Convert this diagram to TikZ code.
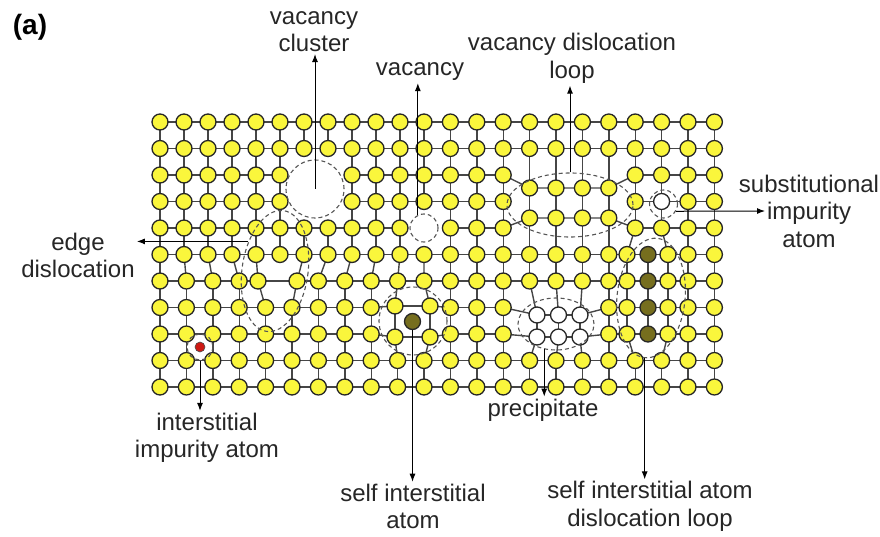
\documentclass[tikz,border=0pt]{standalone}
\usepackage{fontspec}
\setmainfont{Liberation Sans}
\usetikzlibrary{arrows.meta,shapes.geometric}

\definecolor{atomfill}{RGB}{250,246,60}
\definecolor{bondgray}{RGB}{70,70,70}
\definecolor{dashgray}{RGB}{85,85,85}
\definecolor{selfint}{RGB}{118,110,30}
\definecolor{impred}{RGB}{205,25,20}

\begin{document}
\begin{tikzpicture}[
    % pixel-like units, y running down
    x=1pt, y=-1pt,
    % lattice
    bond/.style={draw=bondgray, line width=1.4pt},
    atom/.style={circle, draw=black!85, line width=1.3pt, fill=atomfill, minimum size=16pt, inner sep=0pt},
    hollow/.style={atom, fill=white},
    extra/.style={atom, fill=selfint},
    foreign/.style={circle, draw=black!70, line width=0.6pt, fill=impred, minimum size=10pt, inner sep=0pt},
    % defect outlines
    defect/.style={draw=dashgray, line width=1.1pt, dash pattern=on 4pt off 3pt, inner sep=0pt},
    % text and arrows
    lbl/.style={font=\fontsize{24}{27.5}\selectfont, text=black!85, align=center, inner sep=2pt},
    arr/.style={-{Latex[length=8pt,width=6pt]}, line width=1pt},
    % empty sites, and sites holding a white atom
    declare function={
      gone(\rr,\cc)=(((\rr==2)||(\rr==3))&&((\cc==5)||(\cc==6)))||((\rr==4)&&(\cc==10))||((\rr>=2)&&(\rr<=4)&&(\cc>=14)&&(\cc<=17));
      pale(\rr,\cc)=((\rr==3)&&(\cc==19))||(((\rr==7)||(\rr==8))&&(\cc>=14)&&(\cc<=16));
    },
  ]

  \useasboundingbox (0,0) rectangle (880,537);

  % regular sites; rows above the core are squeezed by the extra half plane
  \foreach \j in {0,...,10} {
    \foreach \k in {0,...,21} {
      \pgfmathsetmacro\x{\j<=5 ? (\k<=4 ? 160+24*\k : (\k<=10 ? 184+24*\k : 160+26.4*\k)) : 160+26.4*\k}
      \coordinate (s-\j-\k) at (\x, 122+26.5*\j);
    }
  }

  % extra half plane of the edge dislocation
  \foreach \j in {0,...,5}
    \coordinate (h-\j) at (280, 122+26.5*\j);

  % displaced sites next to the core
  \coordinate (s-6-4) at (258, 281);
  \coordinate (s-6-5) at (297, 281);
  % ... around the self interstitial
  \coordinate (s-7-9)  at (395, 306);
  \coordinate (s-7-10) at (430, 306);
  \coordinate (s-8-9)  at (395, 337);
  \coordinate (s-8-10) at (430, 337);
  % ... precipitate
  \foreach \k/\x in {14/537, 15/558.5, 16/580} {
    \coordinate (s-7-\k) at (\x, 315);
    \coordinate (s-8-\k) at (\x, 337);
  }
  % ... pushed aside by the interstitial loop
  \foreach \j in {5,...,8} {
    \coordinate (s-\j-18) at (627, 122+26.5*\j);
    \coordinate (s-\j-19) at (668, 122+26.5*\j);
    \coordinate (o-\j)    at (648, 122+26.5*\j);
  }
  % collapsed vacancy disc: three rows closed up into two
  \foreach \k in {14,...,17} {
    \coordinate (v-a-\k) at (160+26.4*\k, 188);
    \coordinate (v-b-\k) at (160+26.4*\k, 218);
  }

  % bonds along the rows
  \foreach \j in {0,...,10} {
    \foreach \k in {0,...,20} {
      \pgfmathtruncatemacro\n{\k+1}
      \pgfmathtruncatemacro\g{gone(\j,\k)+gone(\j,\n)}
      \ifnum\g=0 \draw[bond] (s-\j-\k) -- (s-\j-\n); \fi
    }
  }
  % bonds along the columns
  \foreach \j in {0,...,9} {
    \foreach \k in {0,...,21} {
      \pgfmathtruncatemacro\m{\j+1}
      \pgfmathtruncatemacro\g{gone(\j,\k)+gone(\m,\k)}
      \ifnum\g=0 \draw[bond] (s-\j-\k) -- (s-\m-\k); \fi
    }
  }
  \draw[bond] (h-0) -- (h-5);
  \foreach \j in {0,...,5}
    \draw[bond] (s-\j-4) -- (h-\j);

  % bonds of the vacancy disc
  \foreach \k in {14,...,17}
    \draw[bond] (s-1-\k) -- (v-a-\k) -- (v-b-\k) -- (s-5-\k);
  \draw[bond] (s-2-13) -- (v-a-14) -- (v-a-17) -- (s-2-18);
  \draw[bond] (s-4-13) -- (v-b-14) -- (v-b-17) -- (s-4-18);
  % interstitial loop column
  \draw[bond] (o-5) -- (o-8);

  % atoms
  \foreach \j in {0,...,10} {
    \foreach \k in {0,...,21} {
      \pgfmathtruncatemacro\g{gone(\j,\k)}
      \pgfmathtruncatemacro\w{pale(\j,\k)}
      \ifnum\g=0
        \ifnum\w=1 \node[hollow] (a-\j-\k) at (s-\j-\k) {};
        \else \node[atom] (a-\j-\k) at (s-\j-\k) {};
        \fi
      \fi
    }
  }
  \foreach \j in {0,...,5}
    \node[atom] (a-h-\j) at (h-\j) {};
  \foreach \k in {14,...,17} {
    \node[atom] (a-va-\k) at (v-a-\k) {};
    \node[atom] (a-vb-\k) at (v-b-\k) {};
  }
  \foreach \j in {5,...,8}
    \node[extra] (a-o-\j) at (o-\j) {};

  \node[extra]   (sia) at (412.5, 321.5) {};
  \node[foreign] (iia) at (200, 347) {};

  % dashed outlines of the defects
  \node[defect, circle, minimum size=58pt]                         (vcl) at (315, 189) {};
  \node[defect, circle, minimum size=28pt]                         (vac) at (424, 228) {};
  \node[defect, ellipse, minimum width=126pt, minimum height=64pt] (vlp) at (570, 205) {};
  \node[defect, circle, minimum size=28pt]                         (sub) at (663.5, 204) {};
  \node[defect, ellipse, minimum width=66pt, minimum height=122pt, rotate=-8] (edg) at (275, 271) {};
  \node[defect, circle, minimum size=26pt]                         (iic) at (200, 347) {};
  \node[defect, circle, minimum size=68pt]                         (sic) at (413, 321) {};
  \node[defect, ellipse, minimum width=76pt, minimum height=52pt]  (pre) at (556, 324) {};
  \node[defect, ellipse, minimum width=68pt, minimum height=120pt, rotate=-6] (ilp) at (651, 298) {};

  % labels
  \node[font=\fontsize{28}{32}\selectfont\bfseries] (panel) at (30, 27) {(a)};
  \node[lbl] (vcl-t) at (314, 31.5)  {vacancy\\cluster};
  \node[lbl] (vac-t) at (420, 72)    {vacancy};
  \node[lbl] (vlp-t) at (572, 58.5)  {vacancy dislocation\\loop};
  \node[lbl] (sub-t) at (809, 211)   {substitutional\\impurity\\atom};
  \node[lbl] (edg-t) at (78, 255.5)  {edge\\dislocation};
  \node[lbl] (iia-t) at (207, 438)   {interstitial\\impurity atom};
  \node[lbl] (sia-t) at (413, 506.5) {self interstitial\\atom};
  \node[lbl] (pre-t) at (543, 410)   {precipitate};
  \node[lbl] (ilp-t) at (650, 506.5) {self interstitial atom\\dislocation loop};

  % arrows from each defect to its name
  \coordinate (sub-end) at (765, 211);

  \draw[arr] (vcl.center) -- (vcl.center |- vcl-t.south);
  \draw[arr] (vac.115)    -- (vac.115 |- vac-t.south);
  \draw[arr] (vlp.north)  -- (vlp.north |- vlp-t.south);
  \draw[arr] (sub.-30)    -- (sub-end);
  \draw[arr] (edg.140)    -- (edg.140 -| edg-t.east);
  \draw[arr] (iic.south)  -- (iic.south |- iia-t.north);
  \draw[arr] (sia.south)  -- (sia.south |- sia-t.north);
  \draw[arr] (pre.245)    -- (pre.245 |- pre-t.north);
  \draw[arr] (ilp.south)  -- (ilp.south |- ilp-t.north);

\end{tikzpicture}
\end{document}
